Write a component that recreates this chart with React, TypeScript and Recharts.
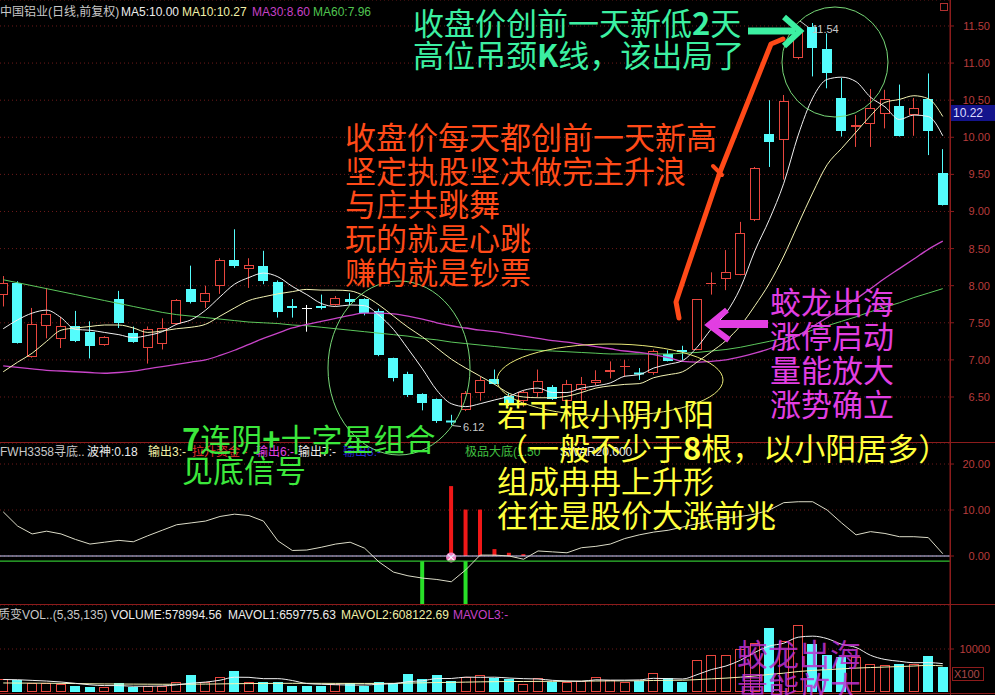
import React from 'react';
import { ComposedChart, Bar, Line, XAxis, YAxis, CartesianGrid, ReferenceLine } from 'recharts';

// ---------- data ----------
const days = Array.from({ length: 66 }, (_, i) => i + 1);

const opens = [7.88, 8.04, 7.04, 7.46, 7.28, 7.46, 7.38, 7.20, 7.82, 7.36,
  7.16, 7.22, 7.48, 7.96, 7.78, 8.00, 8.35, 8.22, 8.27, 8.05,
  7.73, 7.70, 7.73, 7.74, 7.82, 7.82, 7.66, 7.02, 6.81, 6.54,
  6.47, 6.18, 6.33, 6.56, 6.74, 6.51, 6.44, 6.55, 6.63, 6.44,
  6.59, 6.69, 6.84, 6.90, 6.82, 6.82, 7.08, 7.13, 7.13, 8.02,
  8.09, 8.14, 8.88, 10.04, 9.96, 11.07, 11.48, 11.19, 10.53, 10.14,
  10.18, 10.32, 10.42, 10.30, 10.51, 9.52];
const highs = [8.13, 8.06, 7.70, 7.97, 7.58, 7.66, 7.52, 7.32, 7.93, 7.45,
  7.45, 7.56, 7.82, 8.27, 8.00, 8.37, 8.76, 8.37, 8.47, 8.07,
  7.82, 7.74, 7.88, 7.86, 7.90, 7.83, 7.69, 7.03, 6.84, 6.55,
  6.48, 6.26, 6.58, 6.77, 6.87, 6.55, 6.59, 6.87, 6.66, 6.73,
  6.77, 6.86, 6.98, 7.00, 6.89, 7.14, 7.13, 7.19, 7.82, 8.18,
  8.48, 8.86, 9.60, 10.50, 10.57, 11.47, 11.54, 11.40, 10.80, 10.30,
  10.65, 10.64, 10.71, 10.53, 10.86, 9.84];
const lows = [7.72, 7.22, 7.03, 7.29, 7.16, 7.24, 7.02, 7.19, 7.43, 7.23,
  6.95, 7.14, 7.47, 7.76, 7.70, 7.89, 8.24, 7.97, 8.02, 7.57,
  7.57, 7.38, 7.68, 7.73, 7.74, 7.60, 7.05, 6.71, 6.50, 6.32,
  6.15, 6.12, 6.31, 6.45, 6.67, 6.38, 6.37, 6.50, 6.46, 6.43,
  6.44, 6.66, 6.75, 6.77, 6.73, 6.80, 6.98, 7.00, 7.13, 7.88,
  7.94, 8.14, 8.87, 9.60, 9.43, 11.05, 10.82, 10.66, 10.01, 9.87,
  9.87, 10.12, 10.01, 10.02, 9.76, 9.08];
const closes = [8.03, 7.23, 7.49, 7.62, 7.46, 7.25, 7.19, 7.31, 7.50, 7.24,
  7.42, 7.43, 7.81, 7.78, 7.90, 8.35, 8.26, 8.28, 8.06, 7.65,
  7.70, 7.70, 7.70, 7.84, 7.78, 7.63, 7.07, 6.75, 6.53, 6.42,
  6.17, 6.17, 6.56, 6.73, 6.68, 6.39, 6.57, 6.71, 6.47, 6.68,
  6.68, 6.73, 6.87, 6.92, 6.81, 7.12, 6.99, 7.11, 7.82, 8.04,
  8.19, 8.71, 9.58, 9.94, 10.49, 11.42, 11.20, 10.87, 10.08, 10.17,
  10.40, 10.51, 10.02, 10.40, 10.08, 9.09];

const ma5 = [7.42, 7.54, 7.63, 7.67, 7.57, 7.41, 7.40, 7.37, 7.34, 7.30,
  7.33, 7.38, 7.48, 7.54, 7.67, 7.85, 8.02, 8.11, 8.17, 8.12,
  7.99, 7.88, 7.76, 7.72, 7.74, 7.73, 7.60, 7.41, 7.15, 6.88,
  6.59, 6.41, 6.37, 6.41, 6.46, 6.51, 6.59, 6.62, 6.56, 6.56,
  6.62, 6.65, 6.69, 6.78, 6.80, 6.89, 6.94, 6.99, 7.17, 7.42,
  7.63, 7.97, 8.47, 8.89, 9.38, 10.03, 10.53, 10.78, 10.81, 10.75,
  10.54, 10.41, 10.24, 10.30, 10.28, 10.02];
const ma10 = [6.84, 6.97, 7.09, 7.25, 7.40, 7.43, 7.45, 7.47, 7.47, 7.43,
  7.37, 7.39, 7.42, 7.44, 7.48, 7.59, 7.70, 7.80, 7.85, 7.89,
  7.92, 7.95, 7.94, 7.94, 7.93, 7.86, 7.74, 7.59, 7.44, 7.31,
  7.16, 7.01, 6.89, 6.78, 6.67, 6.55, 6.50, 6.49, 6.49, 6.51,
  6.56, 6.62, 6.65, 6.67, 6.68, 6.76, 6.80, 6.84, 6.97, 7.11,
  7.26, 7.46, 7.73, 8.03, 8.40, 8.83, 9.25, 9.63, 9.85, 10.07,
  10.29, 10.47, 10.51, 10.56, 10.52, 10.28];
const ma30 = [6.92, 6.90, 6.88, 6.86, 6.85, 6.84, 6.83, 6.82, 6.83, 6.85,
  6.88, 6.91, 6.94, 6.97, 7.00, 7.06, 7.13, 7.21, 7.29, 7.36,
  7.43, 7.48, 7.52, 7.56, 7.60, 7.63, 7.63, 7.62, 7.59, 7.55,
  7.50, 7.46, 7.43, 7.40, 7.38, 7.35, 7.32, 7.29, 7.26, 7.24,
  7.21, 7.18, 7.15, 7.12, 7.10, 7.07, 7.03, 6.98, 6.97, 6.98,
  7.00, 7.04, 7.09, 7.15, 7.23, 7.33, 7.45, 7.57, 7.69, 7.82,
  7.96, 8.10, 8.23, 8.36, 8.49, 8.60];
const ma60 = [8.08, 8.04, 8.00, 7.96, 7.92, 7.88, 7.84, 7.80, 7.76, 7.72,
  7.68, 7.64, 7.61, 7.59, 7.57, 7.55, 7.53, 7.51, 7.50, 7.49,
  7.47, 7.46, 7.44, 7.42, 7.40, 7.38, 7.36, 7.34, 7.32, 7.29,
  7.27, 7.24, 7.22, 7.20, 7.18, 7.16, 7.14, 7.13, 7.12, 7.11,
  7.10, 7.09, 7.08, 7.08, 7.08, 7.08, 7.08, 7.09, 7.10, 7.12,
  7.14, 7.17, 7.21, 7.25, 7.29, 7.34, 7.40, 7.46, 7.52, 7.58,
  7.65, 7.71, 7.77, 7.84, 7.90, 7.96];

const waveVals = [9.6, 6.5, 4.8, 5.4, 4.8, 3.6, 2.6, 3.0, 3.4, 3.1,
  4.4, 5.6, 6.8, 7.2, 7.6, 8.6, 9.1, 8.8, 7.6, 3.3,
  1.2, 1.3, 1.9, 2.6, 3.0, 1.7, -1.3, -3.5, -4.3, -4.8,
  -5.1, -5.6, -3.0, 0.2, 0.2, 0.0, -0.7, 1.1, 0.9, 0.7,
  1.8, 2.1, 2.6, 3.8, 4.6, 5.2, 5.6, 6.3, 7.0, 7.7,
  8.2, 8.6, 9.1, 10.0, 11.6, 11.8, 11.8, 10.0, 7.2, 4.6,
  5.3, 4.9, 4.2, 4.2, 4.0, 0.5];
// red signal bars (day -> value)
const redSignalDays = [32, 33, 34, 35, 36, 37];
const redSignalVals = [15.2, 10.1, 10.1, 1.5, 0.7, 0.4];
const greenSignalDays = [30, 33];
const greenLineLevel = -1.1;
const pinkDotDay = 32;
const pinkDotVal = -0.3;

const vols = [2950, 2790, 2010, 2010, 1860, 1400, 1090, 1090, 2010, 1090,
  1400, 1400, 2400, 3950, 2400, 3570, 4880, 2250, 2400, 2400,
  1400, 1400, 1400, 1860, 2010, 1400, 2400, 2010, 4190, 3020,
  3950, 2560, 3570, 3950, 3180, 2950, 1860, 3180, 2400, 2400,
  2640, 3570, 2790, 2400, 2640, 4500, 3180, 2400, 7440, 8600,
  8600, 9920, 11470, 14800, 11940, 15580, 11160, 8600, 8220, 8220,
  6510, 6280, 6510, 6510, 8370, 5790];
const mavol1 = [2900, 2850, 2700, 2550, 2324, 2014, 1674, 1490, 1490, 1336,
  1336, 1398, 1660, 2048, 2310, 2744, 3440, 3410, 3100, 3100,
  2666, 1970, 1800, 1692, 1614, 1614, 1814, 1936, 2402, 2604,
  3114, 3146, 3458, 3410, 3442, 3242, 3102, 3024, 2714, 2558,
  2496, 2838, 2760, 2760, 2808, 3180, 3102, 3024, 4032, 5224,
  6044, 7392, 9206, 10678, 11346, 12742, 12990, 12416, 11100, 10356,
  8542, 7566, 7148, 6806, 6836, 6598];
const mavol2 = [2100, 2080, 2060, 2040, 2000, 1960, 1920, 1880, 1860, 1840,
  1820, 1800, 1800, 1820, 1840, 1880, 1930, 1960, 1990, 2010,
  2020, 2020, 2010, 2000, 2000, 1990, 2000, 2010, 2080, 2130,
  2200, 2240, 2300, 2360, 2400, 2440, 2440, 2470, 2480, 2490,
  2510, 2560, 2580, 2590, 2610, 2680, 2720, 2740, 2880, 3060,
  3230, 3450, 3720, 4090, 4380, 4760, 5020, 5200, 5380, 5560,
  5690, 5800, 5920, 6040, 6200, 6081];

const priceTicks = [6.5, 7.0, 7.5, 8.0, 8.5, 9.0, 9.5, 10.0, 10.5, 11.0, 11.5];
const indTicks = [0, 10, 20];
const volTicks = [10000];

// ---------- tables ----------
const priceRows = days.map((day, i) => ({
  day, open: opens[i], high: highs[i], low: lows[i], close: closes[i],
  range: [lows[i], highs[i]], ma5: ma5[i], ma10: ma10[i], ma30: ma30[i], ma60: ma60[i],
}));
const IND_MIN = -10.65;
const IND_MAX = 24.57;
const indRows = days.map((day, i) => {
  const ri = redSignalDays.indexOf(day);
  const red = ri >= 0 ? redSignalVals[ri] : null;
  const green = greenSignalDays.includes(day);
  let ind: number[] | null = null;
  if (red != null && green) ind = [IND_MIN, red];
  else if (red != null) ind = [0, red];
  else if (green) ind = [IND_MIN, greenLineLevel];
  return { day, wave: waveVals[i], ind, red, green, pink: day === pinkDotDay ? pinkDotVal : null };
});
const volRows = days.map((day, i) => ({
  day, vol: vols[i], up: closes[i] > opens[i], mv1: mavol1[i], mv2: mavol2[i],
}));

// ---------- styles ----------
const RED = '#e8463e';
const CYAN = '#54fcfc';
const AXIS = '#8c1c1c';
const AXIS_TXT = '#b83c3c';
const GRID = '#6e1a1a';
const LATIN = "'Liberation Sans', Arial, 'Noto Sans CJK SC', sans-serif";
const CJK = "'Noto Sans CJK SC', 'Noto Sans CJK JP', sans-serif";
const W = 999;

const Candle = (props: any) => {
  const { x, y, width, height, payload } = props;
  if (!payload || x == null || y == null) return null;
  const { open, close, high, low } = payload;
  const top = Math.min(y, y + height);
  const bot = Math.max(y, y + height);
  const span = high - low;
  const py = (v: number) => (span > 0 ? top + ((high - v) / span) * (bot - top) : top);
  const cx = Math.floor(x + width / 2) + 0.5;
  const yo = py(open);
  const yc = py(close);
  const up = close > open;
  const flat = close === open;
  const color = flat ? '#ffffff' : up ? RED : CYAN;
  const bTop = Math.round(Math.min(yo, yc));
  const bBot = Math.round(Math.max(yo, yc));
  const left = Math.round(x);
  const w = Math.round(width);
  if (bBot - bTop < 2) {
    return (
      <g>
        <line x1={cx} x2={cx} y1={top} y2={bot} stroke={color} strokeWidth={1} />
        <line x1={left} x2={left + w} y1={bTop + 0.5} y2={bTop + 0.5} stroke={color} strokeWidth={up || flat ? 1 : 2} />
      </g>
    );
  }
  if (up) {
    return (
      <g>
        <line x1={cx} x2={cx} y1={top} y2={bTop} stroke={color} strokeWidth={1} />
        <line x1={cx} x2={cx} y1={bBot} y2={bot} stroke={color} strokeWidth={1} />
        <rect x={left + 0.5} y={bTop + 0.5} width={w - 1} height={bBot - bTop - 1} fill="#000" stroke={color} strokeWidth={1} />
      </g>
    );
  }
  return (
    <g>
      <line x1={cx} x2={cx} y1={top} y2={bot} stroke={color} strokeWidth={1} />
      <rect x={left} y={bTop} width={w} height={bBot - bTop} fill={color} />
    </g>
  );
};

const IndShape = (props: any) => {
  const { x, y, width, height, payload } = props;
  if (!payload || !payload.ind || y == null) return null;
  const [lo, hi] = payload.ind;
  const top = Math.min(y, y + height);
  const bot = Math.max(y, y + height);
  const py = (v: number) => top + ((hi - v) / (hi - lo)) * (bot - top);
  const cx = x + width / 2;
  const items: any[] = [];
  if (payload.green) {
    items.push(<rect key="g" x={cx - 2} y={py(greenLineLevel)} width={4} height={py(IND_MIN) - py(greenLineLevel)} fill="#28e028" />);
  }
  if (payload.red != null) {
    items.push(<rect key="r" x={cx - 2} y={py(payload.red)} width={4} height={py(0) - py(payload.red)} fill="#f01818" />);
  }
  if (payload.pink != null) {
    const cy = py(payload.pink);
    items.push(
      <g key="p">
        <circle cx={cx} cy={cy} r={5} fill="#f080c0" />
        <path d={`M${cx - 3} ${cy - 3} L${cx + 3} ${cy + 3} M${cx + 3} ${cy - 3} L${cx - 3} ${cy + 3}`} stroke="#ffffff" strokeWidth={1.2} />
      </g>
    );
  }
  return <g>{items}</g>;
};

const VolShape = (props: any) => {
  const { x, y, width, height, payload } = props;
  if (!payload || y == null) return null;
  const top = Math.round(Math.min(y, y + height));
  const bot = Math.round(Math.max(y, y + height));
  const left = Math.round(x);
  const w = Math.round(width);
  if (payload.up) {
    return <rect x={left + 0.5} y={top + 0.5} width={w - 1} height={Math.max(bot - top - 1, 1)} fill="#000" stroke={RED} strokeWidth={1} />;
  }
  return <rect x={left} y={top} width={w} height={bot - top} fill={CYAN} />;
};

const makeTick = (fmt: (v: number) => string) => (props: any) => {
  const { y, payload } = props;
  return (
    <text x={W - 5} y={y + 4} textAnchor="end" fill={AXIS_TXT} fontSize={11} fontFamily={LATIN}>
      {fmt(payload.value)}
    </text>
  );
};
const priceTick = makeTick((v) => v.toFixed(2));
const indTick = makeTick((v) => v.toFixed(2));
const volTick = makeTick((v) => String(v));

// ---------- annotation text ----------
const mintLines = ['收盘价创前一天新低2天', '高位吊颈K线，该出局了'];
const orangeLines = ['收盘价每天都创前一天新高', '坚定执股坚决做完主升浪', '与庄共跳舞', '玩的就是心跳', '赚的就是钞票'];
const magentaLines = ['蛟龙出海', '涨停启动', '量能放大', '涨势确立'];
const yellowLines = ['若干根小阴小阳', '（一般不少于8根，以小阳居多）', '组成冉冉上升形', '往往是股价大涨前兆'];
const greenLines = ['7连阴+十字星组合', '见底信号'];
const volNoteLines = ['蛟龙出海', '量能放大'];

const rich = (t: string) =>
  t.split(/([0-9A-Z+])/).filter((s) => s !== '').map((s, k) =>
    /^[0-9A-Z+]$/.test(s) ? <tspan key={k} fontWeight={700}>{s}</tspan> : <tspan key={k}>{s}</tspan>
  );

const Block = ({ lines, x, y0, dy, fill, opacity = 1 }: any) => (
  <g fill={fill} fontSize={31} fontFamily={CJK} opacity={opacity}>
    {lines.map((t: string, k: number) => (
      <text key={k} x={x} y={y0 + k * dy}>{rich(t)}</text>
    ))}
  </g>
);

const MINT = '#3cf0a2';
const ORANGE = '#ff4a18';
const MAGENTA = '#e23ee2';
const YELLOW = '#ffff3c';
const GREEN = '#3ce83c';

const panelStyle = (top: number): React.CSSProperties => ({ position: 'absolute', left: -4, top, pointerEvents: 'none' });

export default function App() {
  return (
    <div style={{ position: 'absolute', left: 0, top: 0, width: 995, height: 695, background: '#000', overflow: 'hidden' }}>
      {/* price panel */}
      <div style={panelStyle(0)}>
        <ComposedChart width={W} height={443} data={priceRows} margin={{ top: 0, right: 0, bottom: 0, left: 0 }}>
          <CartesianGrid vertical={false} stroke={GRID} strokeDasharray="1 3" />
          <XAxis dataKey="day" hide />
          <YAxis orientation="right" width={45} domain={[5.88, 11.85]} ticks={priceTicks} interval={0}
            allowDataOverflow axisLine={{ stroke: AXIS }} tickLine={{ stroke: AXIS }} tickSize={4} tick={priceTick} />
          <Bar dataKey="range" barSize={10} shape={<Candle />} activeBar={false} isAnimationActive={false} />
          <Line dataKey="ma60" type="monotone" stroke="#5cc85c" strokeWidth={1} dot={false} activeDot={false} isAnimationActive={false} />
          <Line dataKey="ma30" type="monotone" stroke="#c844c8" strokeWidth={1.3} dot={false} activeDot={false} isAnimationActive={false} />
          <Line dataKey="ma10" type="monotone" stroke="#f4f4b4" strokeWidth={1} dot={false} activeDot={false} isAnimationActive={false} />
          <Line dataKey="ma5" type="monotone" stroke="#f0f0f0" strokeWidth={1} dot={false} activeDot={false} isAnimationActive={false} />
        </ComposedChart>
      </div>

      {/* indicator panel */}
      <div style={panelStyle(443)}>
        <ComposedChart width={W} height={162} data={indRows} margin={{ top: 0, right: 0, bottom: 0, left: 0 }}>
          <CartesianGrid vertical={false} stroke={GRID} strokeDasharray="1 3" />
          <XAxis dataKey="day" hide />
          <YAxis orientation="right" width={45} domain={[IND_MIN, IND_MAX]} ticks={indTicks} interval={0}
            allowDataOverflow axisLine={{ stroke: AXIS }} tickLine={{ stroke: AXIS }} tickSize={4} tick={indTick} />
          <ReferenceLine y={0} stroke="#d0d0ff" strokeWidth={1.2} />
          <ReferenceLine y={greenLineLevel} stroke="#30c030" strokeWidth={1.2} />
          <Bar dataKey="ind" barSize={4} shape={<IndShape />} activeBar={false} isAnimationActive={false} />
          <Line dataKey="wave" type="linear" stroke="#dcdcc8" strokeWidth={1} dot={false} activeDot={false} isAnimationActive={false} />
        </ComposedChart>
      </div>

      {/* volume panel */}
      <div style={panelStyle(605)}>
        <ComposedChart width={W} height={87} data={volRows} margin={{ top: 0, right: 0, bottom: 0, left: 0 }}>
          <CartesianGrid vertical={false} stroke={GRID} strokeDasharray="1 3" />
          <XAxis dataKey="day" hide />
          <YAxis orientation="right" width={45} domain={[0, 20233]} ticks={volTicks} interval={0}
            allowDataOverflow axisLine={{ stroke: AXIS }} tickLine={{ stroke: AXIS }} tickSize={4} tick={volTick} />
          <Bar dataKey="vol" barSize={10} shape={<VolShape />} activeBar={false} isAnimationActive={false} />
          <Line dataKey="mv2" type="monotone" stroke="#f4f4b4" strokeWidth={1} dot={false} activeDot={false} isAnimationActive={false} />
          <Line dataKey="mv1" type="monotone" stroke="#f0f0f0" strokeWidth={1} dot={false} activeDot={false} isAnimationActive={false} />
        </ComposedChart>
      </div>

      {/* overlay: frame, headers and hand-drawn annotations */}
      <svg width={995} height={695} style={{ position: 'absolute', left: 0, top: 0, pointerEvents: 'none' }}>
        <line x1={950.5} x2={950.5} y1={0} y2={695} stroke={AXIS} />
        <line x1={0} x2={995} y1={442.5} y2={442.5} stroke={AXIS} />
        <line x1={0} x2={995} y1={604.5} y2={604.5} stroke={AXIS} />
        <line x1={0} x2={995} y1={693.5} y2={693.5} stroke={AXIS} />
        <rect x={940.5} y={3.5} width={7} height={7} fill="none" stroke="#b03030" />
        <rect x={951} y={105} width={44} height={16} fill="#14148c" />
        <text x={953} y={117} fill="#dcdcff" fontSize={12} fontFamily={LATIN}>10.22</text>
        <rect x={952.5} y={667.5} width={31} height={13} fill="none" stroke={AXIS} />
        <text x={954} y={678} fill="#a84848" fontSize={11} fontFamily={LATIN}>X100</text>

        {/* headers */}
        <g fontSize={12} fontFamily={LATIN}>
          <text y={16}>
            <tspan x={0} fill="#c8c8c8">中国铝业(日线,前复权)</tspan>
            <tspan x={121} fill="#ececec">MA5:10.00</tspan>
            <tspan x={182} fill="#f0f0a8">MA10:10.27</tspan>
            <tspan x={252} fill="#c640c6">MA30:8.60</tspan>
            <tspan x={313} fill="#50c450">MA60:7.96</tspan>
          </text>
          <text y={456}>
            <tspan x={0} fill="#c8c8c8">FWH3358寻底..</tspan>
            <tspan x={87} fill="#ececec">波神:0.18</tspan>
            <tspan x={148} fill="#f0f0a8">输出3:-</tspan>
            <tspan x={192} fill="#e83030">拉升资金 -</tspan>
            <tspan x={256} fill="#e040e0">输出6:-</tspan>
            <tspan x={298} fill="#ececec">输出7:-</tspan>
            <tspan x={343} fill="#2828d8">输出8:-</tspan>
            <tspan x={465} fill="#40c040">极品大底(1.50</tspan>
            <tspan x={560} fill="#ececec">SWAR20.000</tspan>
          </text>
          <text y={619}>
            <tspan x={-2} fill="#c8c8c8">质变VOL..(5,35,135)</tspan>
            <tspan x={111} fill="#ececec">VOLUME:578994.56</tspan>
            <tspan x={228} fill="#ececec">MAVOL1:659775.63</tspan>
            <tspan x={341} fill="#f0f0a8">MAVOL2:608122.69</tspan>
            <tspan x={453} fill="#c640c6">MAVOL3:-</tspan>
          </text>
        </g>

        {/* extreme price labels */}
        <line x1={800} y1={21} x2={808} y2={27} stroke="#c8c8c8" />
        <text x={812} y={33} fill="#c8c8c8" fontSize={11} fontFamily={LATIN}>11.54</text>
        <line x1={452} y1={425.5} x2={461} y2={426.5} stroke="#c8c8c8" />
        <text x={463} y={431} fill="#c8c8c8" fontSize={11} fontFamily={LATIN}>6.12</text>

        {/* circles / ellipses */}
        <ellipse cx={835} cy={62} rx={53} ry={55} fill="none" stroke="#78d878" strokeWidth={1} />
        <ellipse cx={399} cy={368} rx={71} ry={87} fill="none" stroke="#78d878" strokeWidth={1} />
        <ellipse cx={610} cy={380} rx={113} ry={36} fill="none" stroke="#e8e878" strokeWidth={1} />

        {/* arrows */}
        <line x1={748} y1={31} x2={795} y2={31} stroke={MINT} strokeWidth={7} />
        <polyline points="784,17 800,31 784,46" fill="none" stroke={MINT} strokeWidth={6} />
        <line x1={712} y1={324} x2={768} y2={324} stroke={MAGENTA} strokeWidth={8} />
        <polyline points="727,310 709,325 729,340" fill="none" stroke={MAGENTA} strokeWidth={6} />
        <polyline points="679,318 676,302 686,272 720,172 771,44 783,39" fill="none" stroke={ORANGE} strokeWidth={5} strokeLinejoin="round" strokeLinecap="round" />
        <line x1={713} y1={166} x2={722} y2={175} stroke={ORANGE} strokeWidth={4} strokeLinecap="round" />

        {/* text blocks */}
        <Block lines={mintLines} x={413} y0={35} dy={32} fill={MINT} />
        <Block lines={orangeLines} x={345} y0={149} dy={33.7} fill={ORANGE} />
        <Block lines={magentaLines} x={770} y0={314} dy={34} fill={MAGENTA} />
        <Block lines={yellowLines} x={497} y0={426} dy={33.5} fill={YELLOW} />
        <Block lines={greenLines} x={182} y0={451} dy={31} fill={GREEN} />
        <Block lines={volNoteLines} x={737} y0={666} dy={33} fill="#c030d0" opacity={0.85} />
      </svg>
    </div>
  );
}
